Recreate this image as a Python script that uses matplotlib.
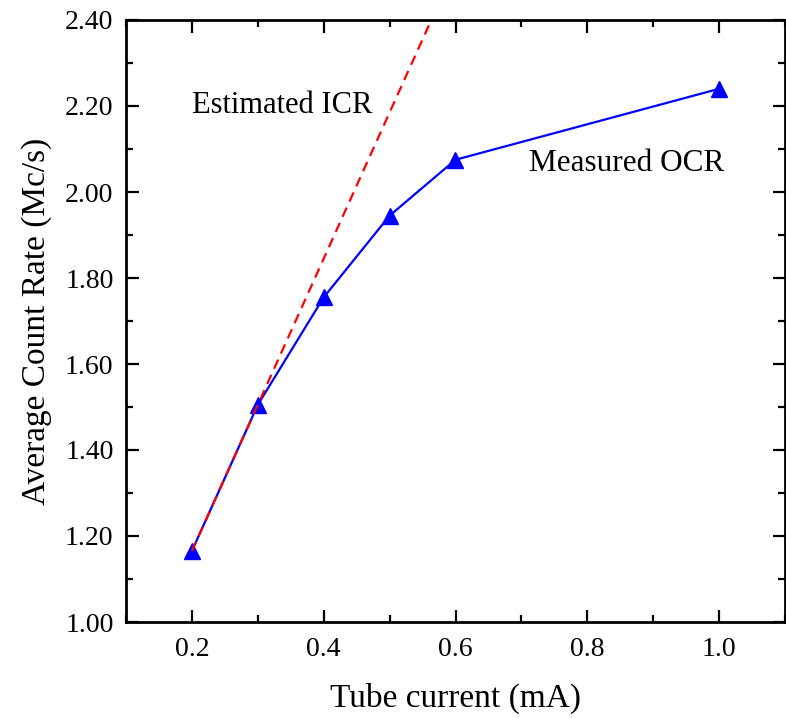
import numpy as np
import matplotlib
matplotlib.use('Agg')
import matplotlib.pyplot as plt
from matplotlib.ticker import MultipleLocator, FormatStrFormatter

# measured output count rate
current = [0.2, 0.3, 0.4, 0.5, 0.6, 1.0]
ocr = [1.165, 1.505, 1.755, 1.945, 2.075, 2.24]

# estimated input count rate (linear from the low-current points)
icr_current = [0.2, 0.3, 0.6]
icr = [1.165, 1.505, 2.525]

plt.rcParams['font.family'] = ['Liberation Serif', 'DejaVu Serif']

fig = plt.figure(figsize=(7.86, 7.18), dpi=100)
ax = fig.add_axes([126 / 786, 1 - 622 / 718, 659 / 786, 602 / 718])

ax.plot(current, ocr, color='blue', lw=1.6, marker='^', ms=12, zorder=3)
ax.plot(icr_current, icr, color='red', lw=1.6, ls=(0, (4.5, 3)), zorder=4)

ax.set_xlim(0.1, 1.1)
ax.set_ylim(1.0, 2.4)
ax.xaxis.set_major_locator(MultipleLocator(0.2))
ax.xaxis.set_minor_locator(MultipleLocator(0.1))
ax.yaxis.set_major_locator(MultipleLocator(0.2))
ax.yaxis.set_minor_locator(MultipleLocator(0.1))
ax.xaxis.set_major_formatter(FormatStrFormatter('%.1f'))
ax.yaxis.set_major_formatter(FormatStrFormatter('%.2f'))

ax.tick_params(which='both', direction='in', top=True, right=True, width=1.6,
               labelsize=20)
ax.tick_params(which='major', length=9)
ax.tick_params(which='minor', length=5)
ax.tick_params(axis='x', which='major', pad=11)
ax.tick_params(axis='y', which='major', pad=9)
for s in ax.spines.values():
    s.set_linewidth(2)

ax.set_xlabel('Tube current (mA)', fontsize=24, labelpad=15)
ax.set_ylabel('Average Count Rate (Mc/s)', fontsize=24, labelpad=9)

ax.text(0.2, 2.202, 'Estimated ICR', fontsize=22, va='center', ha='left')
ax.text(0.712, 2.067, 'Measured OCR', fontsize=22.5, va='center', ha='left')

fig.savefig('out.png', dpi=100)
